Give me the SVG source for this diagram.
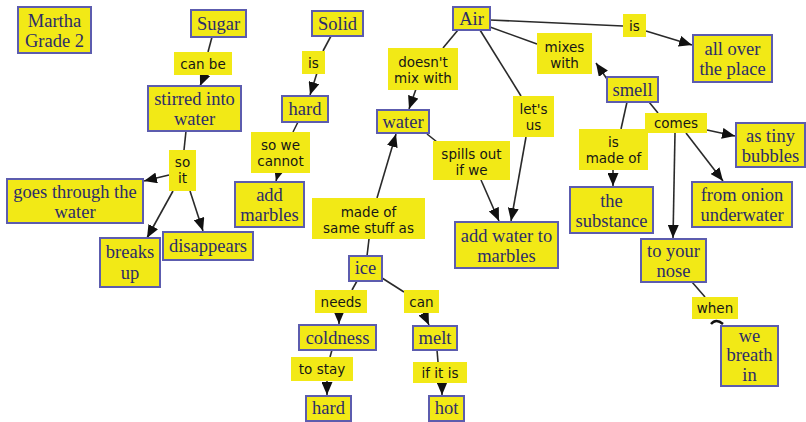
<svg xmlns="http://www.w3.org/2000/svg" width="806" height="422" viewBox="0 0 806 422">
  <style>
    .c rect { fill: #f2e916; stroke: #5c5cae; stroke-width: 2; }
    .c text { font-family: "Liberation Serif", "Times New Roman", serif; font-size: 18.5px; fill: #2c2c6a; text-anchor: middle; dominant-baseline: central; }
    .l rect { fill: #f2e916; }
    .l text { font-family: "DejaVu Sans", Verdana, sans-serif; font-size: 13.5px; fill: #161616; text-anchor: middle; dominant-baseline: central; }
    #edges line, #edges path { stroke: #2a2a2a; stroke-width: 1.6; fill: none; }
    #edges .a { marker-end: url(#ah); }
  </style>
  <defs>
    <marker id="ah" markerUnits="userSpaceOnUse" markerWidth="13" markerHeight="11" refX="13" refY="5.5" orient="auto">
      <path d="M0,0 L13,5.5 L0,11 z" fill="#111"/>
    </marker>
  </defs>
  <rect width="806" height="422" fill="#fff"/>

  <g id="edges">
    <line x1="212" y1="37" x2="208" y2="52"/>
    <line class="a" x1="205" y1="74" x2="200" y2="86"/>
    <line x1="186" y1="131" x2="184" y2="150"/>
    <line class="a" x1="169" y1="175" x2="144" y2="181"/>
    <line class="a" x1="173" y1="191" x2="147" y2="238"/>
    <line class="a" x1="190" y1="191" x2="203" y2="231"/>
    <line x1="331" y1="36" x2="323" y2="51"/>
    <line class="a" x1="317" y1="73" x2="310" y2="95"/>
    <line x1="298" y1="122" x2="293" y2="132"/>
    <line class="a" x1="279" y1="170" x2="276" y2="181"/>
    <line x1="458" y1="30" x2="443" y2="48"/>
    <line class="a" x1="416" y1="89" x2="409" y2="109"/>
    <line x1="427" y1="134" x2="437" y2="142"/>
    <line class="a" x1="481" y1="180" x2="499" y2="221"/>
    <line x1="480" y1="30" x2="521" y2="96"/>
    <line class="a" x1="526" y1="137" x2="511" y2="221"/>
    <line x1="490" y1="27" x2="537" y2="44"/>
    <line class="a" x1="607" y1="79" x2="596" y2="63"/>
    <line x1="490" y1="20" x2="623" y2="26"/>
    <line class="a" x1="646" y1="31" x2="692" y2="45"/>
    <line x1="627" y1="102" x2="621" y2="129"/>
    <line class="a" x1="613" y1="169" x2="613" y2="186"/>
    <line x1="649" y1="102" x2="658" y2="113"/>
    <line class="a" x1="707" y1="130" x2="735" y2="136"/>
    <line class="a" x1="686" y1="133" x2="723" y2="181"/>
    <line class="a" x1="675" y1="133" x2="673" y2="238"/>
    <line x1="692" y1="282" x2="705" y2="297"/>
    <path d="M711,324 Q716,318 723,324" style="stroke:#111;stroke-width:2.4"/>
    <line x1="367" y1="256" x2="369" y2="239"/>
    <line class="a" x1="377" y1="198" x2="396" y2="134"/>
    <line x1="357" y1="281" x2="352" y2="290"/>
    <line class="a" x1="339" y1="312" x2="339" y2="324"/>
    <line x1="332" y1="350" x2="330" y2="357"/>
    <line class="a" x1="327" y1="380" x2="327" y2="395"/>
    <line x1="382" y1="278" x2="404" y2="292"/>
    <line class="a" x1="423" y1="312" x2="429" y2="325"/>
    <line x1="437" y1="350" x2="438" y2="362"/>
    <line class="a" x1="442" y1="382" x2="442" y2="395"/>
  </g>

  <!-- concepts -->
  <g id="martha" class="c"><rect x="18" y="7" width="73" height="46"/><text x="54.5" y="21">Martha</text><text x="54.5" y="41">Grade 2</text></g>
  <g id="sugar" class="c"><rect x="191" y="10" width="55" height="27"/><text x="218.5" y="23.5">Sugar</text></g>
  <g id="stirred" class="c"><rect x="148" y="86" width="93" height="45"/><text x="194.5" y="99">stirred into</text><text x="194.5" y="119">water</text></g>
  <g id="goes-through" class="c"><rect x="7" y="179" width="136" height="44"/><text x="75" y="192">goes through the</text><text x="75" y="212">water</text></g>
  <g id="breaks-up" class="c"><rect x="100" y="238" width="60" height="49"/><text x="130" y="252">breaks</text><text x="130" y="273">up</text></g>
  <g id="disappears" class="c"><rect x="163" y="232" width="90" height="28"/><text x="208" y="245.5">disappears</text></g>
  <g id="solid" class="c"><rect x="312" y="11" width="51" height="25"/><text x="337.5" y="23.5">Solid</text></g>
  <g id="hard-top" class="c"><rect x="282" y="96" width="46" height="26"/><text x="305" y="109">hard</text></g>
  <g id="add-marbles" class="c"><rect x="235" y="182" width="69" height="45"/><text x="269.5" y="195">add</text><text x="269.5" y="215">marbles</text></g>
  <g id="air" class="c"><rect x="453" y="7" width="37" height="23"/><text x="471.5" y="18.5">Air</text></g>
  <g id="water" class="c"><rect x="377" y="110" width="52" height="23"/><text x="403" y="121.5">water</text></g>
  <g id="add-water" class="c"><rect x="455" y="222" width="103" height="46"/><text x="506.5" y="236">add water to</text><text x="506.5" y="256">marbles</text></g>
  <g id="smell" class="c"><rect x="607" y="77" width="51" height="25"/><text x="632.5" y="89.5">smell</text></g>
  <g id="all-over" class="c"><rect x="693" y="35" width="79" height="47"/><text x="732.5" y="49">all over</text><text x="732.5" y="69">the place</text></g>
  <g id="substance" class="c"><rect x="570" y="187" width="83" height="46"/><text x="611.5" y="201">the</text><text x="611.5" y="221">substance</text></g>
  <g id="tiny-bubbles" class="c"><rect x="736" y="123" width="69" height="44"/><text x="770.5" y="136">as tiny</text><text x="770.5" y="156">bubbles</text></g>
  <g id="onion" class="c"><rect x="692" y="182" width="100" height="45"/><text x="742" y="195">from onion</text><text x="742" y="215">underwater</text></g>
  <g id="nose" class="c"><rect x="641" y="239" width="65" height="43"/><text x="673.5" y="251">to your</text><text x="673.5" y="271">nose</text></g>
  <g id="breath" class="c"><rect x="721" y="326" width="57" height="60"/><text x="749.5" y="336">we</text><text x="749.5" y="355">breath</text><text x="749.5" y="375">in</text></g>
  <g id="ice" class="c"><rect x="349" y="256" width="33" height="25"/><text x="365.5" y="268">ice</text></g>
  <g id="coldness" class="c"><rect x="299" y="325" width="77" height="25"/><text x="337.5" y="337.5">coldness</text></g>
  <g id="hard-bottom" class="c"><rect x="306" y="396" width="45" height="25"/><text x="328.5" y="408">hard</text></g>
  <g id="melt" class="c"><rect x="413" y="326" width="44" height="24"/><text x="435" y="338">melt</text></g>
  <g id="hot" class="c"><rect x="429" y="396" width="35" height="25"/><text x="446.5" y="408">hot</text></g>

  <!-- linking phrases -->
  <g id="lbl-can-be" class="l"><rect x="174" y="52" width="58" height="23"/><text x="203" y="63.5">can be</text></g>
  <g id="lbl-so-it" class="l"><rect x="169" y="150" width="27" height="41"/><text x="182.5" y="162">so</text><text x="182.5" y="178">it</text></g>
  <g id="lbl-is-solid" class="l"><rect x="302" y="51" width="23" height="23"/><text x="313.5" y="62.5">is</text></g>
  <g id="lbl-so-we" class="l"><rect x="251" y="132" width="59" height="41"/><text x="280.5" y="145">so we</text><text x="280.5" y="161">cannot</text></g>
  <g id="lbl-doesnt" class="l"><rect x="388" y="48" width="70" height="42"/><text x="423" y="62">doesn't</text><text x="423" y="78">mix with</text></g>
  <g id="lbl-spills" class="l"><rect x="433" y="141" width="77" height="39"/><text x="471.5" y="154">spills out</text><text x="471.5" y="170">if we</text></g>
  <g id="lbl-lets-us" class="l"><rect x="513" y="96" width="41" height="41"/><text x="533.5" y="109">let's</text><text x="533.5" y="125">us</text></g>
  <g id="lbl-mixes" class="l"><rect x="537" y="33" width="55" height="41"/><text x="564.5" y="47">mixes</text><text x="564.5" y="63">with</text></g>
  <g id="lbl-is-air" class="l"><rect x="623" y="14" width="23" height="23"/><text x="634.5" y="25.5">is</text></g>
  <g id="lbl-made-of" class="l"><rect x="579" y="129" width="69" height="41"/><text x="613.5" y="142">is</text><text x="613.5" y="158">made of</text></g>
  <g id="lbl-comes" class="l"><rect x="645" y="113" width="62" height="20"/><text x="676" y="123">comes</text></g>
  <g id="lbl-when" class="l"><rect x="692" y="297" width="46" height="22"/><text x="715" y="308">when</text></g>
  <g id="lbl-same-stuff" class="l"><rect x="312" y="198" width="113" height="41"/><text x="368.5" y="212">made of</text><text x="368.5" y="228">same stuff as</text></g>
  <g id="lbl-needs" class="l"><rect x="315" y="290" width="52" height="23"/><text x="341" y="301.5">needs</text></g>
  <g id="lbl-to-stay" class="l"><rect x="291" y="357" width="62" height="24"/><text x="322" y="369">to stay</text></g>
  <g id="lbl-can" class="l"><rect x="404" y="290" width="35" height="23"/><text x="421.5" y="301.5">can</text></g>
  <g id="lbl-if-it-is" class="l"><rect x="413" y="362" width="54" height="21"/><text x="440" y="372.5">if it is</text></g>
</svg>
